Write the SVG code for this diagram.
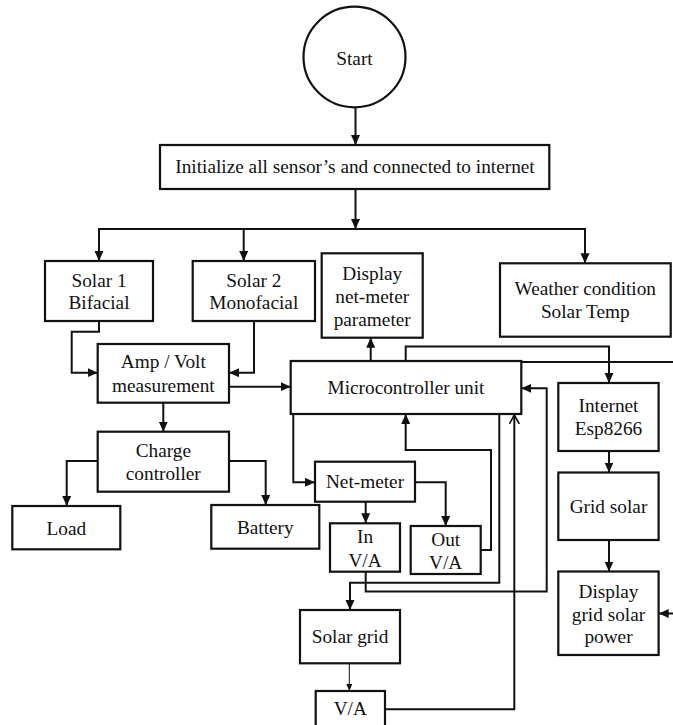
<svg xmlns="http://www.w3.org/2000/svg" width="673" height="725" viewBox="0 0 673 725">
  <defs>
    <style>
      .box { fill: #ffffff; stroke: #111111; stroke-width: 2.2; }
      .wire { fill: none; stroke: #111111; stroke-width: 2; }
      .thin { fill: none; stroke: #111111; stroke-width: 1; }
      text { font-family: "Liberation Serif", "Times New Roman", serif; font-size: 19.3px; fill: #111111; text-anchor: middle; }
    </style>
    <marker id="arr" markerUnits="userSpaceOnUse" markerWidth="11" markerHeight="10" refX="10" refY="4.5" orient="auto">
      <path d="M0,0 L10,4.5 L0,9 z" fill="#111111"/>
    </marker>
    <marker id="arrSmall" markerUnits="userSpaceOnUse" markerWidth="8" markerHeight="7" refX="7" refY="3" orient="auto">
      <path d="M0,0 L7,3 L0,6 z" fill="#111111"/>
    </marker>
    <marker id="arrOpen" markerUnits="userSpaceOnUse" markerWidth="12" markerHeight="12" refX="9" refY="5" orient="auto">
      <path d="M0,0 L9,5 L0,10" fill="none" stroke="#111111" stroke-width="1.6"/>
    </marker>
  </defs>

  <rect width="673" height="725" fill="#ffffff"/>

  <!-- connectors -->
  <g id="connectors">
    <path class="wire" d="M355.5,107 V145" marker-end="url(#arr)"/>
    <path class="wire" d="M355.5,189 V229" marker-end="url(#arr)"/>
    <path class="wire" d="M98,229 H586"/>
    <path class="wire" d="M99,229 V261" marker-end="url(#arr)"/>
    <path class="wire" d="M243.7,229 V261" marker-end="url(#arr)"/>
    <path class="wire" d="M585,229 V263.3" marker-end="url(#arr)"/>
    <path class="wire" d="M99,321 V331.7 H71.7 V372.7 H97.7" marker-end="url(#arr)"/>
    <path class="wire" d="M254,321 V372.7 H229" marker-end="url(#arr)"/>
    <path class="wire" d="M229,386.7 H290.7" marker-end="url(#arr)"/>
    <path class="wire" d="M163.3,402.7 V431.7" marker-end="url(#arr)"/>
    <path class="wire" d="M97.7,461 H66.7 V506" marker-end="url(#arr)"/>
    <path class="wire" d="M229,461 H265.7 V505" marker-end="url(#arr)"/>
    <path class="wire" d="M370.7,361 V337.7" marker-end="url(#arr)"/>
    <path class="wire" d="M405.7,361 V346.5 H609 V383" marker-end="url(#arr)"/>
    <path class="wire" d="M521.3,362 H673"/>
    <path class="wire" d="M673,613.5 H658.7" marker-end="url(#arr)"/>
    <path class="wire" d="M609,451 V472.5" marker-end="url(#arr)"/>
    <path class="wire" d="M609,540 V571.5" marker-end="url(#arr)"/>
    <path class="wire" d="M293.3,414 V482.3 H315" marker-end="url(#arr)"/>
    <path class="wire" d="M365.7,501.7 V523.3" marker-end="url(#arr)"/>
    <path class="wire" d="M415,482.3 H445.7 V526" marker-end="url(#arr)"/>
    <path class="wire" d="M480.7,550 H491 V450 H405.7 V414" marker-end="url(#arr)"/>
    <path class="wire" d="M499.3,414 V582.7 H350 V610" marker-end="url(#arr)"/>
    <path class="wire" d="M365.7,571.7 V591.5 H546.7 V388.3 H521.3" marker-end="url(#arr)"/>
    <path class="thin" d="M349.3,663.3 V691" marker-end="url(#arrSmall)"/>
    <path class="wire" d="M385,709.3 H514.3 V415" marker-end="url(#arrOpen)"/>
  </g>

  <!-- nodes -->
  <g id="start">
    <ellipse class="box" cx="354.5" cy="57" rx="51" ry="50.3"/>
    <text x="354.5" y="65">Start</text>
  </g>
  <g id="init">
    <rect class="box" x="160" y="145" width="389.3" height="44"/>
    <text x="355" y="173.3">Initialize all sensor’s and connected to internet</text>
  </g>
  <g id="solar1">
    <rect class="box" x="45" y="261" width="108" height="60"/>
    <text x="99" y="286.7">Solar 1</text>
    <text x="99" y="309.3">Bifacial</text>
  </g>
  <g id="solar2">
    <rect class="box" x="192.7" y="261" width="122.3" height="60"/>
    <text x="253.8" y="286.7">Solar 2</text>
    <text x="253.8" y="309.3">Monofacial</text>
  </g>
  <g id="display-netmeter">
    <rect class="box" x="321.7" y="253.3" width="101" height="84.4"/>
    <text x="372.2" y="280">Display</text>
    <text x="372.2" y="303.3">net-meter</text>
    <text x="372.2" y="326">parameter</text>
  </g>
  <g id="weather">
    <rect class="box" x="500" y="263.3" width="170.7" height="73.4"/>
    <text x="585.3" y="295">Weather condition</text>
    <text x="585.3" y="318.3">Solar Temp</text>
  </g>
  <g id="amp-volt">
    <rect class="box" x="97.7" y="344" width="131.3" height="58.7"/>
    <text x="163.3" y="368.3">Amp / Volt</text>
    <text x="163.3" y="391.7">measurement</text>
  </g>
  <g id="mcu">
    <rect class="box" x="290.7" y="361" width="230.6" height="53"/>
    <text x="406" y="394.3">Microcontroller unit</text>
  </g>
  <g id="charge-controller">
    <rect class="box" x="97.7" y="431.7" width="131.3" height="60"/>
    <text x="163.3" y="457.3">Charge</text>
    <text x="163.3" y="480">controller</text>
  </g>
  <g id="load">
    <rect class="box" x="12.3" y="506" width="108" height="43.3"/>
    <text x="66.3" y="535">Load</text>
  </g>
  <g id="battery">
    <rect class="box" x="211.3" y="505" width="108" height="43.7"/>
    <text x="265.3" y="534">Battery</text>
  </g>
  <g id="internet">
    <rect class="box" x="558.3" y="383" width="100.3" height="68"/>
    <text x="608.5" y="412.3">Internet</text>
    <text x="608.5" y="435">Esp8266</text>
  </g>
  <g id="grid-solar">
    <rect class="box" x="558.3" y="472.5" width="100.3" height="67.5"/>
    <text x="608.5" y="513.3">Grid solar</text>
  </g>
  <g id="display-grid-solar">
    <rect class="box" x="558.3" y="571.5" width="100.3" height="83.5"/>
    <text x="608.5" y="598.3">Display</text>
    <text x="608.5" y="621">grid solar</text>
    <text x="608.5" y="643.3">power</text>
  </g>
  <g id="net-meter">
    <rect class="box" x="315" y="461.7" width="100" height="40"/>
    <text x="365" y="488.3">Net-meter</text>
  </g>
  <g id="in-va">
    <rect class="box" x="330" y="523.3" width="70" height="48.4"/>
    <text x="365" y="543.3">In</text>
    <text x="365" y="566.7">V/A</text>
  </g>
  <g id="out-va">
    <rect class="box" x="410.7" y="526" width="70" height="48"/>
    <text x="445.7" y="546">Out</text>
    <text x="445.7" y="569">V/A</text>
  </g>
  <g id="solar-grid">
    <rect class="box" x="300" y="610" width="100" height="53.3"/>
    <text x="350" y="643.3">Solar grid</text>
  </g>
  <g id="va">
    <rect class="box" x="315.7" y="691" width="69.3" height="40"/>
    <text x="350.3" y="715">V/A</text>
  </g>
</svg>
